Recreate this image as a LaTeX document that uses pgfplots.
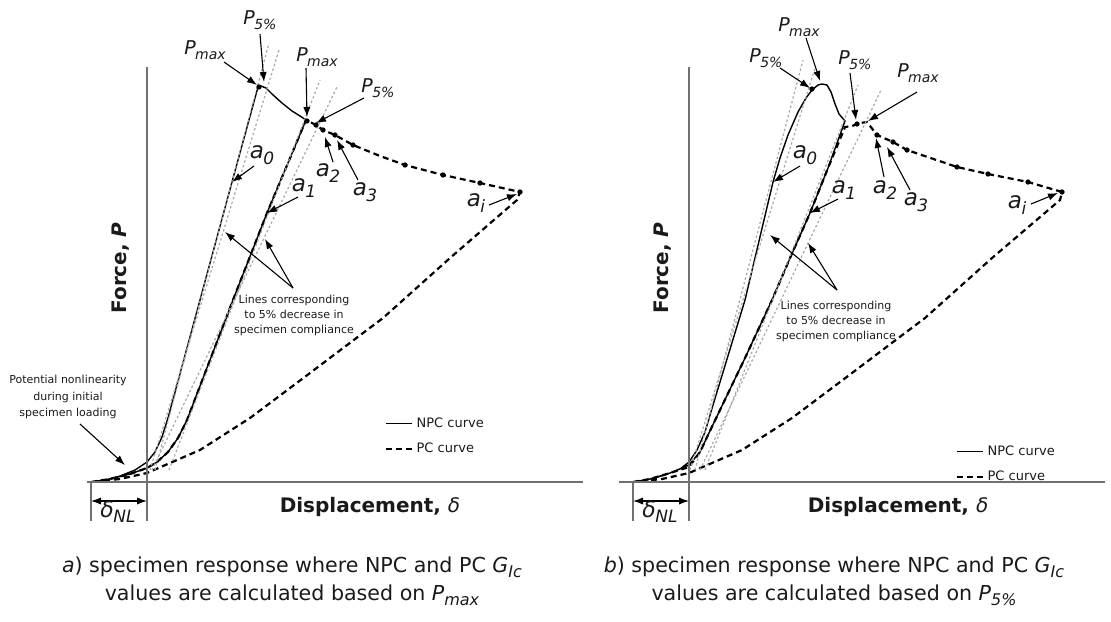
\documentclass[border=0pt]{standalone}
\usepackage{pgfplots}
\pgfplotsset{compat=1.18}
\usepackage{fontspec}
\setmainfont{DejaVu Sans}
\usetikzlibrary{arrows.meta}
\definecolor{axgray}{HTML}{707070}
\definecolor{dotgray}{HTML}{A8A8A8}
\definecolor{txt}{HTML}{1A1A1A}
\newcommand{\fs}[1]{\fontsize{#1}{#1}\selectfont}
\newcommand{\Pl}[1]{{\fs{9.5}\itshape P\kern-0.3pt\raisebox{-0.5ex}{\fs{7}#1}}}
\newcommand{\al}[1]{{\fs{11.5}\itshape a\kern-0.2pt\raisebox{-0.5ex}{\fs{8.5}#1}}}
\newcommand{\dNL}{{\fs{11}\itshape δ\kern-0.3pt\raisebox{-0.45ex}{\fs{8.5}NL}}}
\pgfplotsset{
  panel/.style={hide axis, scale only axis, width=277.75pt, height=310.5pt,
    ymin=0, ymax=621, y dir=reverse, clip=false, anchor=south west,
    legend style={draw=none, fill=none, anchor=north west, inner sep=0pt,
      font=\fontsize{6.5}{8}\selectfont, row sep=2.5pt, text=txt},
    legend cell align=left,
    legend image code/.code={\draw[##1] (0pt,0pt) -- (13pt,0pt);}},
  npc/.style={black, line width=0.7pt, line join=round},
  pc/.style={black, line width=1.1pt, dash pattern=on 3pt off 2pt},
  dl/.style={dotgray, line width=0.6pt, dash pattern=on 1.2pt off 1.2pt, forget plot},
  dots/.style={only marks, mark=*, mark size=1.1pt, black, forget plot},
}
\tikzset{arr/.style={-{Latex[length=5pt,width=3.6pt]}, line width=0.55pt, black},
  darr/.style={{Latex[length=5pt,width=3.6pt]}-{Latex[length=5pt,width=3.6pt]}, line width=0.55pt, black}}
\begin{document}
\begin{tikzpicture}
% ---------------- panel a ----------------
\begin{axis}[panel, at={(0pt,0pt)}, xmin=0, xmax=555.5,
  legend style={at={(axis cs:384,413)}}]
\addplot[npc] coordinates {(91,482) (105,480) (120,476) (135,470) (147,462) (155,452) (162,437) (168,418)
  (200,300) (232,182) (258,87) (261,86) (266,88) (272,94) (282,103) (292,111) (300,116) (306,120)
  (267,213) (233,300) (187,420) (178,438) (168,452) (157,462) (147,468) (130,474) (110,479) (91,482)};
\addlegendentry{NPC curve}
\addplot[pc] coordinates {(91,482) (110,479) (130,474) (147,468) (157,462) (168,452) (178,438) (187,420)
  (233,300) (267,213) (306,120) (316,125) (323,130) (335,135) (353,145) (380,156) (405,165) (443,175) (480,183) (520,192)
  (517,200) (450,258) (383,318) (367,330) (310,373) (250,418) (200,450) (170,463) (147,473) (120,479) (91,482)};
\addlegendentry{PC curve}
\addplot[dots] coordinates {(259,87) (307,121) (316,125) (323,130) (335,135) (353,145) (405,165) (443,175) (480,183) (520,192)};
\addplot[dl] coordinates {(155,470) (269,43)};
\addplot[dl] coordinates {(150,470) (279,50)};
\addplot[dl] coordinates {(169,470) (320,80)};
\addplot[dl] coordinates {(152,470) (337,87)};
% axes
\draw[axgray, line width=0.9pt] (axis cs:147,67) -- (axis cs:147,521);
\draw[axgray, line width=0.9pt] (axis cs:87,482) -- (axis cs:583,482);
\draw[axgray, line width=0.8pt] (axis cs:91,482) -- (axis cs:91,521);
\draw[darr] (axis cs:91,501) -- (axis cs:147,501);
\node[text=txt] at (axis cs:118,512) {\dNL};
\node[font=\fs{10}\bfseries, text=txt] at (axis cs:370,507) {Displacement, \textnormal{\itshape δ}};
\node[rotate=90, font=\fs{10}\bfseries, text=txt] at (axis cs:121,268) {Force, \textit{P}};
% labels
\node[text=txt] at (axis cs:205,50) {\Pl{max}}; \draw[arr] (axis cs:224,62) -- (axis cs:257,85);
\node[text=txt] at (axis cs:260,20) {\Pl{5\%}}; \draw[arr] (axis cs:260,34) -- (axis cs:264,82);
\node[text=txt] at (axis cs:317,57) {\Pl{max}}; \draw[arr] (axis cs:306,68) -- (axis cs:307,117);
\node[text=txt] at (axis cs:378,88) {\Pl{5\%}}; \draw[arr] (axis cs:364,98) -- (axis cs:316,123);
\node[text=txt] at (axis cs:262,155) {\al{0}}; \draw[arr] (axis cs:254,166) -- (axis cs:232,182);
\node[text=txt] at (axis cs:304,188) {\al{1}}; \draw[arr] (axis cs:298,197) -- (axis cs:267,213);
\node[text=txt] at (axis cs:328,173) {\al{2}}; \draw[arr] (axis cs:333,162) -- (axis cs:325,137);
\node[text=txt] at (axis cs:365,192) {\al{3}}; \draw[arr] (axis cs:358,180) -- (axis cs:337,140);
\node[text=txt] at (axis cs:476,203) {\al{i}}; \draw[arr] (axis cs:489,205) -- (axis cs:517,194);
\node[align=center, font=\fontsize{5.5}{7.5}\selectfont, text=txt] at (axis cs:294,315)
  {Lines corresponding\\to 5\% decrease in\\specimen compliance};
\draw[arr] (axis cs:293,288) -- (axis cs:225,232);
\draw[arr] (axis cs:293,288) -- (axis cs:265,239);
\node[align=center, font=\fontsize{5.5}{8.25}\selectfont, text=txt] at (axis cs:68,397)
  {Potential nonlinearity\\during initial\\specimen loading};
\draw[arr] (axis cs:80,424) -- (axis cs:125,465);
\node[align=center, font=\fontsize{10.3}{14}\selectfont, text=txt] at (axis cs:292,581)
  {\textit{a}) specimen response where NPC and PC \textit{G}\raisebox{-0.45ex}{\fs{8}\itshape Ic}\\values are calculated based on \textit{P}\raisebox{-0.45ex}{\fs{8}\itshape max}};
\end{axis}
% ---------------- panel b ----------------
\begin{axis}[panel, at={(277.75pt,0pt)}, xmin=555.5, xmax=1111,
  legend style={at={(axis cs:955,441)}}]
\addplot[npc] coordinates {(633,482) (650,479) (665,475) (680,469) (689,462) (697,450) (705,432) (713,405)
  (745,300) (773,182) (780,158) (788,135) (798,112) (806,98) (812,90) (818,85) (822,84) (827,85) (831,92) (835,104) (839,114) (845,121)
  (828,168) (810,213) (790,258) (772,300) (745,358) (720,410) (708,435) (700,452) (689,465) (670,473) (650,479) (633,482)};
\addlegendentry{NPC curve}
\addplot[pc] coordinates {(633,482) (650,479) (670,473) (689,467) (700,452) (708,435) (720,410) (745,358) (772,300)
  (790,258) (810,213) (828,168) (845,127) (852,126) (860,123) (867,122) (877,135) (893,142) (907,150) (957,167) (988,174) (1028,182) (1062,192)
  (1060,200) (992,258) (925,318) (909,330) (852,373) (792,418) (742,450) (712,463) (689,473) (662,479) (633,482)};
\addlegendentry{PC curve}
\addplot[dots] coordinates {(812,89) (857,124) (877,135) (893,142) (907,150) (957,167) (988,174) (1028,182) (1062,192)};
\addplot[dl] coordinates {(695,470) (803,60)};
\addplot[dl] coordinates {(690,470) (815,68)};
\addplot[dl] coordinates {(705,470) (858,85)};
\addplot[dl] coordinates {(700,470) (881,90)};
\draw[axgray, line width=0.9pt] (axis cs:689,67) -- (axis cs:689,521);
\draw[axgray, line width=0.9pt] (axis cs:619,482) -- (axis cs:1105,482);
\draw[axgray, line width=0.8pt] (axis cs:633,482) -- (axis cs:633,521);
\draw[darr] (axis cs:633,501) -- (axis cs:689,501);
\node[text=txt] at (axis cs:660,512) {\dNL};
\node[font=\fs{10}\bfseries, text=txt] at (axis cs:898,507) {Displacement, \textnormal{\itshape δ}};
\node[rotate=90, font=\fs{10}\bfseries, text=txt] at (axis cs:663,268) {Force, \textit{P}};
\node[text=txt] at (axis cs:766,58) {\Pl{5\%}}; \draw[arr] (axis cs:780,68) -- (axis cs:810,88);
\node[text=txt] at (axis cs:799,27) {\Pl{max}}; \draw[arr] (axis cs:806,38) -- (axis cs:820,81);
\node[text=txt] at (axis cs:855,60) {\Pl{5\%}}; \draw[arr] (axis cs:850,73) -- (axis cs:856,120);
\node[text=txt] at (axis cs:918,73) {\Pl{max}}; \draw[arr] (axis cs:917,92) -- (axis cs:868,121);
\node[text=txt] at (axis cs:805,155) {\al{0}}; \draw[arr] (axis cs:800,166) -- (axis cs:773,182);
\node[text=txt] at (axis cs:844,190) {\al{1}}; \draw[arr] (axis cs:838,199) -- (axis cs:810,213);
\node[text=txt] at (axis cs:885,190) {\al{2}}; \draw[arr] (axis cs:884,177) -- (axis cs:876,138);
\node[text=txt] at (axis cs:916,202) {\al{3}}; \draw[arr] (axis cs:910,190) -- (axis cs:887,147);
\node[text=txt] at (axis cs:1017,205) {\al{i}}; \draw[arr] (axis cs:1031,204) -- (axis cs:1058,193);
\node[align=center, font=\fontsize{5.5}{7.5}\selectfont, text=txt] at (axis cs:836,321)
  {Lines corresponding\\to 5\% decrease in\\specimen compliance};
\draw[arr] (axis cs:837,290) -- (axis cs:770,235);
\draw[arr] (axis cs:837,290) -- (axis cs:808,243);
\node[align=center, font=\fontsize{10.3}{14}\selectfont, text=txt] at (axis cs:834,581)
  {\textit{b}) specimen response where NPC and PC \textit{G}\raisebox{-0.45ex}{\fs{8}\itshape Ic}\\values are calculated based on \textit{P}\raisebox{-0.45ex}{\fs{8}\itshape 5\%}};
\end{axis}
\pgfresetboundingbox
\path (0pt,0pt) rectangle (555.5pt,310.5pt);
\end{tikzpicture}
\end{document}
